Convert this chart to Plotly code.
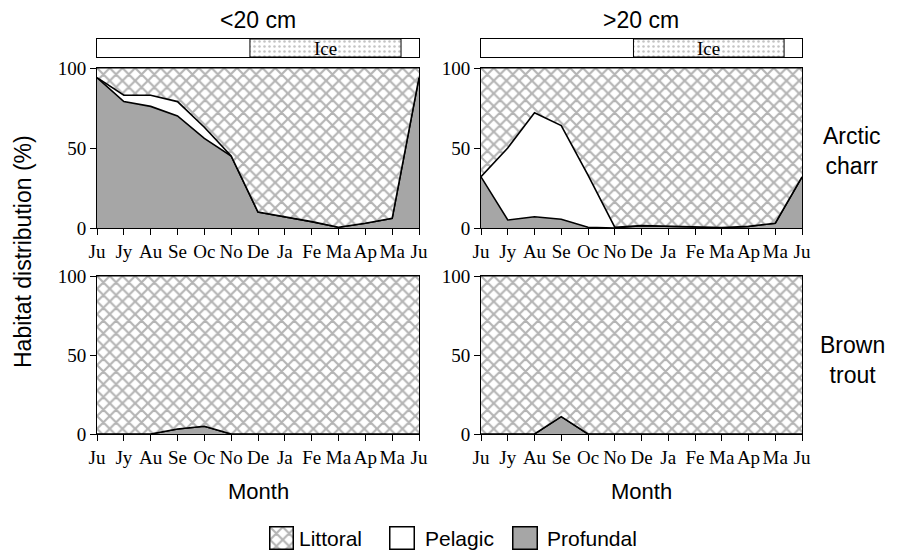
import plotly.graph_objects as go

# ---------------- data ----------------
months = ["Ju", "Jy", "Au", "Se", "Oc", "No", "De", "Ja", "Fe", "Ma", "Ap", "Ma", "Ju"]
size_classes = ["<20 cm", ">20 cm"]
species = ["Arctic<br>charr", "Brown<br>trout"]
habitats = ["Littoral", "Pelagic", "Profundal"]

charr_small_profundal = [94, 79, 76, 70, 56, 45, 10, 7, 4, 0.5, 3, 6, 94]
charr_small_pelagic = [0, 4, 7, 9, 7, 0, 0, 0, 0, 0, 0, 0, 0]
charr_large_profundal = [32, 5, 7, 5.5, 0.5, 0, 1.5, 1, 0.5, 0.3, 1, 3, 32]
charr_large_pelagic = [0, 45, 65, 58.5, 32.5, 0.5, 0, 0, 0, 0, 0, 0, 0]
trout_small_profundal = [0, 0, 0, 3.2, 4.9, 0, 0, 0, 0, 0, 0, 0, 0]
trout_small_pelagic = [0, 0, 0, 0, 0, 0, 0, 0, 0, 0, 0, 0, 0]
trout_large_profundal = [0, 0, 0, 11, 0, 0, 0, 0, 0, 0, 0, 0, 0]
trout_large_pelagic = [0, 0, 0, 0, 0, 0, 0, 0, 0, 0, 0, 0, 0]

ice_on = 5.7    # month index (late November)
ice_off = 11.33  # month index (mid May)

# ---------------- layout helpers ----------------
OFF = 8  # page body margin of the browser
W, H = 898 - OFF, 554 - OFF
def fx(p):
    return (p - OFF) / W
def fy(p):
    return 1 - (p - OFF) / H

GRAY = "#a6a6a6"
HATCH = dict(shape="x", fgcolor="#6a6a6a", bgcolor="white", size=9, solidity=0.42)
SANS = "Liberation Sans"
SERIF = "Liberation Serif"

panel_x = [(97, 419), (481, 802)]
panel_y = [(68, 228), (276, 434)]
ice_y = (39, 57)

panels = [
    (0, 0, charr_small_profundal, charr_small_pelagic),
    (0, 1, charr_large_profundal, charr_large_pelagic),
    (1, 0, trout_small_profundal, trout_small_pelagic),
    (1, 1, trout_large_profundal, trout_large_pelagic),
]

x_idx = list(range(len(months)))
fig = go.Figure()
layout = {}

for k, (r, c, prof, pel) in enumerate(panels):
    n = k + 1
    xa = "x" if n == 1 else f"x{n}"
    ya = "y" if n == 1 else f"y{n}"
    upper = [a + b for a, b in zip(prof, pel)]
    littoral = [100 - u for u in upper]
    top = [u + l for u, l in zip(upper, littoral)]
    fig.add_trace(go.Scatter(x=x_idx, y=prof, xaxis=xa, yaxis=ya, mode="lines",
                             line=dict(color="black", width=1.6), fill="tozeroy",
                             fillcolor=GRAY, showlegend=False, name="Profundal"))
    fig.add_trace(go.Scatter(x=x_idx, y=upper, xaxis=xa, yaxis=ya, mode="lines",
                             line=dict(color="black", width=1.6), fill="tonexty",
                             fillcolor="white", showlegend=False, name="Pelagic"))
    fig.add_trace(go.Scatter(x=x_idx, y=top, xaxis=xa, yaxis=ya, mode="lines",
                             line=dict(color="black", width=1), fill="tonexty",
                             fillcolor="white", fillpattern=HATCH,
                             showlegend=False, name="Littoral"))
    common = dict(showline=True, linecolor="black", linewidth=1, mirror=True,
                  ticks="outside", ticklen=6, tickcolor="black", tickwidth=1,
                  showgrid=False, zeroline=False, automargin=False, tickangle=0,
                  tickfont=dict(family=SERIF, size=19, color="black"))
    layout["xaxis" if n == 1 else f"xaxis{n}"] = dict(
        common, domain=[fx(panel_x[c][0]), fx(panel_x[c][1])], range=[0, 12],
        tickvals=x_idx, ticktext=months, anchor=ya)
    layout["yaxis" if n == 1 else f"yaxis{n}"] = dict(
        common, domain=[fy(panel_y[r][1]), fy(panel_y[r][0])], range=[0, 100],
        tickvals=[0, 50, 100], anchor=xa)

bare = dict(showline=True, linecolor="black", linewidth=1, mirror=True, automargin=False,
            showticklabels=False, ticks="", showgrid=False, zeroline=False)

# ice bars
for c in range(2):
    n = 5 + c
    xa, ya = f"x{n}", f"y{n}"
    fig.add_trace(go.Bar(x=[ice_off - ice_on], base=[ice_on], y=[0], width=[1],
                         orientation="h", xaxis=xa, yaxis=ya, showlegend=False,
                         hoverinfo="skip",
                         marker=dict(color="white", line=dict(color="black", width=1),
                                     pattern=dict(shape=".", fgcolor="#8a8a8a",
                                                  bgcolor="white", size=5, solidity=0.2))))
    layout[f"xaxis{n}"] = dict(bare, domain=[fx(panel_x[c][0]), fx(panel_x[c][1])],
                               range=[0, 12], anchor=ya)
    layout[f"yaxis{n}"] = dict(bare, domain=[fy(ice_y[1]), fy(ice_y[0])],
                               range=[-0.5, 0.5], anchor=xa)

# legend key boxes
legend_boxes = [(270, 293), (390, 414), (513, 537)]
legend_text_x = [297, 423, 545]
key_y = (527, 549)
key_styles = [
    dict(color="white", pattern=HATCH),
    dict(color="white"),
    dict(color=GRAY),
]
for i, name in enumerate(habitats):
    n = 7 + i
    xa, ya = f"x{n}", f"y{n}"
    fig.add_trace(go.Bar(x=[0], y=[1], width=[1], xaxis=xa, yaxis=ya, showlegend=False,
                         name=name, hoverinfo="skip",
                         marker=dict(key_styles[i], line=dict(color="black", width=1))))
    layout[f"xaxis{n}"] = dict(bare, domain=[fx(legend_boxes[i][0]), fx(legend_boxes[i][1])],
                               range=[-0.5, 0.5], anchor=ya)
    layout[f"yaxis{n}"] = dict(bare, domain=[fy(key_y[1]), fy(key_y[0])],
                               range=[0, 1], anchor=xa)

annotations = []
title_x = [258, 641]
for c in range(2):
    annotations.append(dict(text=size_classes[c], x=fx(title_x[c]), y=fy(20), xref="paper",
                             yref="paper", showarrow=False, xanchor="center", yanchor="middle",
                             font=dict(family=SANS, size=23, color="black")))
    annotations.append(dict(text="Month", x=fx(title_x[c]), y=fy(491), xref="paper",
                             yref="paper", showarrow=False, xanchor="center", yanchor="middle",
                             font=dict(family=SANS, size=22, color="black")))
    annotations.append(dict(text="Ice", x=(ice_on + ice_off) / 2, y=0, xref=f"x{5 + c}",
                             yref=f"y{5 + c}", showarrow=False, xanchor="center",
                             yanchor="middle", font=dict(family=SERIF, size=19, color="black")))
row_y = [151, 360]
for r in range(2):
    annotations.append(dict(text=species[r], x=fx(852), y=fy(row_y[r]), xref="paper",
                             yref="paper", showarrow=False, xanchor="center", yanchor="middle",
                             font=dict(family=SANS, size=23, color="black")))
annotations.append(dict(text="Habitat distribution (%)", x=fx(23), y=fy(252), xref="paper",
                        yref="paper", showarrow=False, textangle=-90, xanchor="center",
                        yanchor="middle", font=dict(family=SANS, size=23, color="black")))
for i, name in enumerate(habitats):
    annotations.append(dict(text=name, x=fx(legend_text_x[i]), y=fy(538), xref="paper",
                            yref="paper", showarrow=False, xanchor="left", yanchor="middle",
                            font=dict(family=SANS, size=21, color="black")))

fig.update_layout(
    width=W, height=H, margin=dict(l=0, r=0, t=0, b=0, autoexpand=False),
    paper_bgcolor="white", plot_bgcolor="white",
    barmode="overlay", showlegend=False,
    annotations=annotations,
    **layout,
)

fig.write_html("out.html")
